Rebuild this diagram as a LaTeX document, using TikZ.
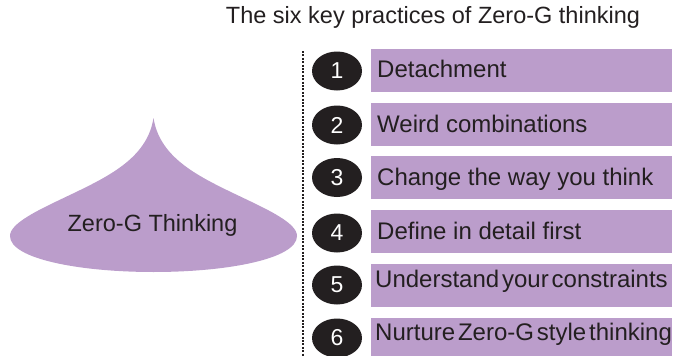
\documentclass[tikz,border=0pt]{standalone}
\usepackage{fontspec}
\setmainfont{Liberation Sans}
\usepackage{graphicx}
\usetikzlibrary{shapes.geometric}
\definecolor{lav}{RGB}{187,157,203}
\definecolor{ink}{RGB}{35,31,32}
\begin{document}
\begin{tikzpicture}[x=1pt,y=-1pt,
  itembox/.style={fill=lav,draw=none},
  itemtext/.style={anchor=base west,inner sep=0pt,text=ink,font=\fontsize{24}{28}\selectfont},
  numdot/.style={ellipse,fill=ink,draw=none,minimum width=50pt,minimum height=39pt,inner sep=0pt,text=white,font=\fontsize{23}{26}\selectfont},
  titletext/.style={inner sep=0pt,text=ink,font=\fontsize{23.5}{28}\selectfont}]
\useasboundingbox (0,0) rectangle (673,356);
% title
\node[titletext,anchor=base] (title) at (433,23.3) {The six key practices of Zero-G thinking};
% teardrop
\fill[lav] (153.5,118) .. controls (146,165) and (95,182) .. (45,207)
  .. controls (15,222) and (10,230) .. (10,236)
  .. controls (10,259) and (80,272) .. (153.5,272)
  .. controls (227,272) and (297,259) .. (297,236)
  .. controls (297,230) and (292,222) .. (262,207)
  .. controls (212,182) and (161,165) .. (153.5,118) -- cycle;
\node[titletext,anchor=base] (zg) at (152.5,231.5) {Zero-G Thinking};
% dotted line
\coordinate (dtop) at (303,51);
\coordinate (dbot) at (303,356);
\draw[ink,line width=2.1pt,dash pattern=on 2pt off 1.4pt] (dtop) -- (dbot);
% boxes
\fill[itembox] (371,49) rectangle (672,92);
\fill[itembox] (371,103) rectangle (672,146);
\fill[itembox] (371,156) rectangle (672,199);
\fill[itembox] (371,210) rectangle (672,253);
\fill[itembox] (371,264) rectangle (672,307);
\fill[itembox] (371,318) rectangle (672,361);
% numbers
\node[numdot] (n1) at (337,71) {1};
\node[numdot] (n2) at (337,125) {2};
\node[numdot] (n3) at (337,177.5) {3};
\node[numdot] (n4) at (337,233) {4};
\node[numdot] (n5) at (337,285) {5};
\node[numdot] (n6) at (337,338) {6};
% texts
\node[itemtext] (t1) at (377,77.5) {Detachment};
\node[itemtext] (t2) at (377,132) {Weird combinations};
\node[itemtext] (t3) at (377,185) {Change the way you think};
\node[itemtext] (t4) at (377,239.3) {Define in detail first};
\node[itemtext] (t5) at (375,287.5) {\spaceskip=0.12em\relax Understand your constraints};
\node[itemtext] (t6) at (375,340) {\spaceskip=0.12em\relax Nurture Zero-G style thinking};
\end{tikzpicture}
\end{document}
